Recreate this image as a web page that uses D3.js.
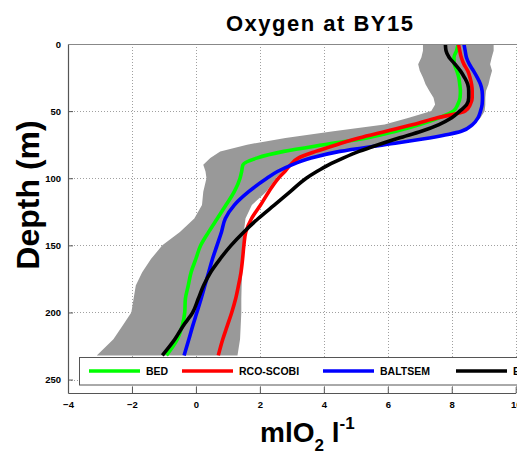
<!DOCTYPE html>
<html><head><meta charset="utf-8">
<script src="https://cdn.jsdelivr.net/npm/d3@7"></script>
<style>
body{margin:0;background:#fff;overflow:hidden}
svg{display:block}
text{font-family:"Liberation Sans",Arial,Helvetica,sans-serif;font-weight:bold;fill:#000}
</style>
</head><body>
<svg id="chart" width="517" height="454"></svg>
<script>
// ---- data ----
const depth   = [0,5,10,15,20,25,30,35,40,45,50,55,60,65,70,75,80,85,90,95,100,110,120,130,140,150,160,170,180,190,200,210,220,232];
const bed     = [8.2,8.15,8.07,8.08,8.16,8.22,8.25,8.27,8.26,8.19,8.05,7.6,7.0,6.25,5.35,4.0,2.75,1.9,1.47,1.43,1.38,1.2,0.94,0.67,0.4,0.15,0.0,-0.15,-0.24,-0.33,-0.35,-0.43,-0.58,-0.92];
const rcoScobi= [8.21,8.25,8.3,8.38,8.5,8.57,8.62,8.64,8.64,8.58,8.42,7.55,6.8,5.95,5.1,4.4,3.75,3.2,2.96,2.78,2.58,2.28,2.02,1.74,1.56,1.5,1.46,1.41,1.33,1.24,1.12,0.98,0.84,0.70];
const baltsem = [8.38,8.42,8.46,8.55,8.68,8.8,8.9,8.95,8.96,8.95,8.9,8.82,8.65,8.3,7.3,5.9,4.5,3.6,3.0,2.55,2.22,1.65,1.2,0.92,0.8,0.66,0.52,0.4,0.28,0.16,0.03,-0.1,-0.22,-0.37];
const ergom   = [7.8,7.82,7.92,8.1,8.27,8.4,8.5,8.53,8.53,8.47,8.25,8.0,7.6,7.05,6.35,5.7,5.1,4.6,4.15,3.78,3.45,2.95,2.45,1.95,1.5,1.1,0.76,0.46,0.24,0.07,-0.1,-0.4,-0.66,-1.05];
const obsMin  = [7.1,7.1,7.05,6.95,7.0,7.1,7.18,7.3,7.43,7.48,7.36,6.66,5.9,4.3,2.8,1.6,0.76,0.45,0.23,0.3,0.33,0.23,0.19,-0.05,-0.5,-1.05,-1.4,-1.68,-1.88,-1.95,-2.02,-2.3,-2.58,-3.1];
const obsMax  = [9.31,9.31,9.25,9.2,9.26,9.2,9.15,9.07,9.05,9.05,9.03,8.9,8.68,8.3,7.4,6.0,4.65,3.7,3.05,2.7,2.5,2.2,1.75,1.55,1.5,1.48,1.45,1.45,1.43,1.42,1.42,1.4,1.38,1.3];

const seriesNames  = ["BED","RCO-SCOBI","BALTSEM","ERGOM"];
const seriesValues = [bed, rcoScobi, baltsem, ergom];
const seriesColors = ["#00ff00","#ff0000","#0000ff","#000000"];

const xTicks = [-4,-2,0,2,4,6,8,10];
const yTicks = [0,50,100,150,200,250];
const title = "Oxygen at BY15";
const yLabel = "Depth (m)";

// ---- layout ----
const svg = d3.select("#chart");
const L = 68, R = 515.7, T = 44, B = 393;
const x = d3.scaleLinear().domain([-4,10]).range([L,R]);
const y = d3.scaleLinear().domain([0,260]).range([T,B]);

svg.append("defs").append("clipPath").attr("id","plotclip")
  .append("rect").attr("x",L).attr("y",T).attr("width",R-L+2).attr("height",B-T);

// grid
const grid = svg.append("g").attr("stroke","#a0a0a0").attr("stroke-width",1).attr("stroke-dasharray","1,2");
xTicks.filter(v=>v>-4).forEach(v=>{
  grid.append("line").attr("x1",Math.round(x(v))+0.5).attr("x2",Math.round(x(v))+0.5).attr("y1",T).attr("y2",B);
});
yTicks.forEach(v=>{
  grid.append("line").attr("x1",L).attr("x2",R+2).attr("y1",Math.round(y(v))+0.5).attr("y2",Math.round(y(v))+0.5);
});

const plot = svg.append("g").attr("clip-path","url(#plotclip)");

// observation range band
const band = depth.map((d,i)=>({d, lo:obsMin[i], hi:obsMax[i]}));
plot.append("path").datum(band)
  .attr("fill","#999999").attr("stroke","none")
  .attr("d", d3.area().y(p=>y(p.d)).x0(p=>x(p.lo)).x1(p=>x(p.hi)));

// model lines
const line = d3.line().x(p=>x(p.v)).y(p=>y(p.d)).curve(d3.curveMonotoneY);
seriesValues.forEach((vals,k)=>{
  plot.append("path").datum(depth.map((d,i)=>({d, v:vals[i]})))
    .attr("fill","none").attr("stroke",seriesColors[k]).attr("stroke-width",3.6)
    .attr("stroke-linejoin","round").attr("d",line);
});

// axes
const fmt = d3.format("d");
const xAxis = svg.append("g").attr("transform",`translate(0,${B})`)
  .call(d3.axisBottom(x).tickValues(xTicks).tickFormat(fmt).tickSize(-6).tickSizeOuter(0).tickPadding(8));
const yAxis = svg.append("g").attr("transform",`translate(${L},0)`)
  .call(d3.axisLeft(y).tickValues(yTicks).tickFormat(fmt).tickSize(-5).tickSizeOuter(0).tickPadding(7));
[xAxis,yAxis].forEach(a=>{
  a.attr("font-family",null).attr("font-size",null);
  a.select(".domain").attr("stroke","#555").attr("stroke-width",1.2);
  a.selectAll(".tick line").attr("stroke","#555");
  a.selectAll(".tick text").style("font-size","9.5px").style("font-weight","bold");
});
// top border
svg.append("line").attr("x1",L).attr("x2",R+2).attr("y1",T+0.5).attr("y2",T+0.5).attr("stroke","#888").attr("stroke-width",1.2);

// legend
const lg = svg.append("g");
lg.append("rect").attr("x",79.5).attr("y",357.5).attr("width",470).attr("height",27.5)
  .attr("fill","#fff").attr("stroke","#555").attr("stroke-width",1);
const legX = [89,182,323,456];
seriesNames.forEach((n,k)=>{
  lg.append("line").attr("x1",legX[k]).attr("x2",legX[k]+51).attr("y1",371).attr("y2",371)
    .attr("stroke",seriesColors[k]).attr("stroke-width",3.6);
  lg.append("text").attr("x",legX[k]+57).attr("y",375).style("font-size","10.5px").text(n);
});

// title
svg.append("text").attr("x",226).attr("y",31).style("font-size","22px")
  .style("letter-spacing","1.5px").text(title);

// y label
svg.append("text").attr("transform","translate(39,195) rotate(-90)")
  .attr("text-anchor","middle").style("font-size","32px").text(yLabel);

// x label: mlO2 l-1
const xl = svg.append("text").attr("x",260).attr("y",442).style("font-size","28px");
xl.append("tspan").text("mlO");
xl.append("tspan").attr("dy",9).style("font-size","17px").text("2");
xl.append("tspan").attr("dy",-9).text(" l");
xl.append("tspan").attr("dy",-13).style("font-size","17px").text("-1");
</script>
</body></html>
